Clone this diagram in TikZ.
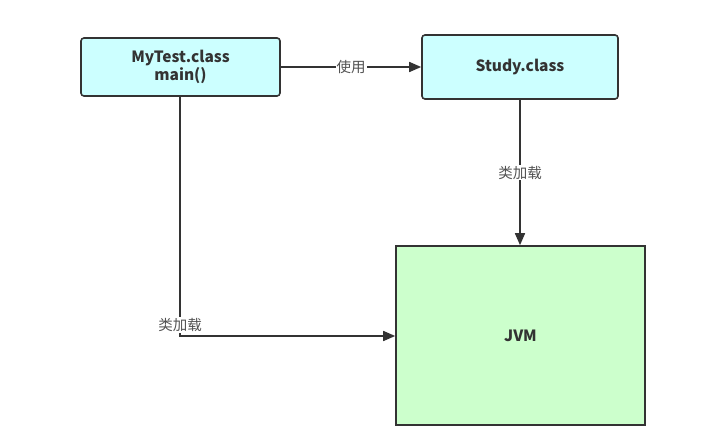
\documentclass[tikz,border=0pt]{standalone}
\usepackage{fontspec}
\setmainfont{Noto Sans CJK SC}
\usetikzlibrary{arrows.meta}
\definecolor{edge}{HTML}{333333}
\definecolor{cyanfill}{HTML}{CCFFFF}
\definecolor{greenfill}{HTML}{CCFFCC}
\begin{document}
\begin{tikzpicture}[x=1pt,y=-1pt,
  classbox/.style={draw=edge,line width=1.6pt,fill=cyanfill,rounded corners=3pt,inner sep=0pt,font=\bfseries\fontsize{15.5}{18}\selectfont,text=edge,align=center},
  jvmbox/.style={draw=edge,line width=1.6pt,fill=greenfill,inner sep=0pt,font=\bfseries\fontsize{15.5}{18}\selectfont,text=edge},
  conn/.style={draw=edge,line width=1.6pt,-{Triangle[length=12pt,width=10pt]}},
  lbl/.style={fill=white,inner sep=1pt,text=edge!85,font=\fontsize{14.5}{17}\selectfont}]
\useasboundingbox (0,0) rectangle (722,443);
\node[classbox,minimum width=199pt,minimum height=58pt] (mytest) at (180.5,67) {MyTest.class\\main()};
\node[classbox,minimum width=196pt,minimum height=64pt] (study) at (520,67) {Study.class};
\node[jvmbox,minimum width=249pt,minimum height=179pt] (jvm) at (520.5,335.5) {JVM};
\coordinate (start) at (180,96);
\coordinate (bend) at (180,336);
\draw[conn] (mytest) -- node[lbl,pos=0.5] {使用} (study);
\draw[conn] (study) -- node[lbl,pos=0.5] {类加载} (study.south |- jvm.north);
\draw[conn] (start) -- (bend) -- (bend -| jvm.west);
\node[lbl] (lbl3) at (180,325) {类加载};
\end{tikzpicture}
\end{document}
